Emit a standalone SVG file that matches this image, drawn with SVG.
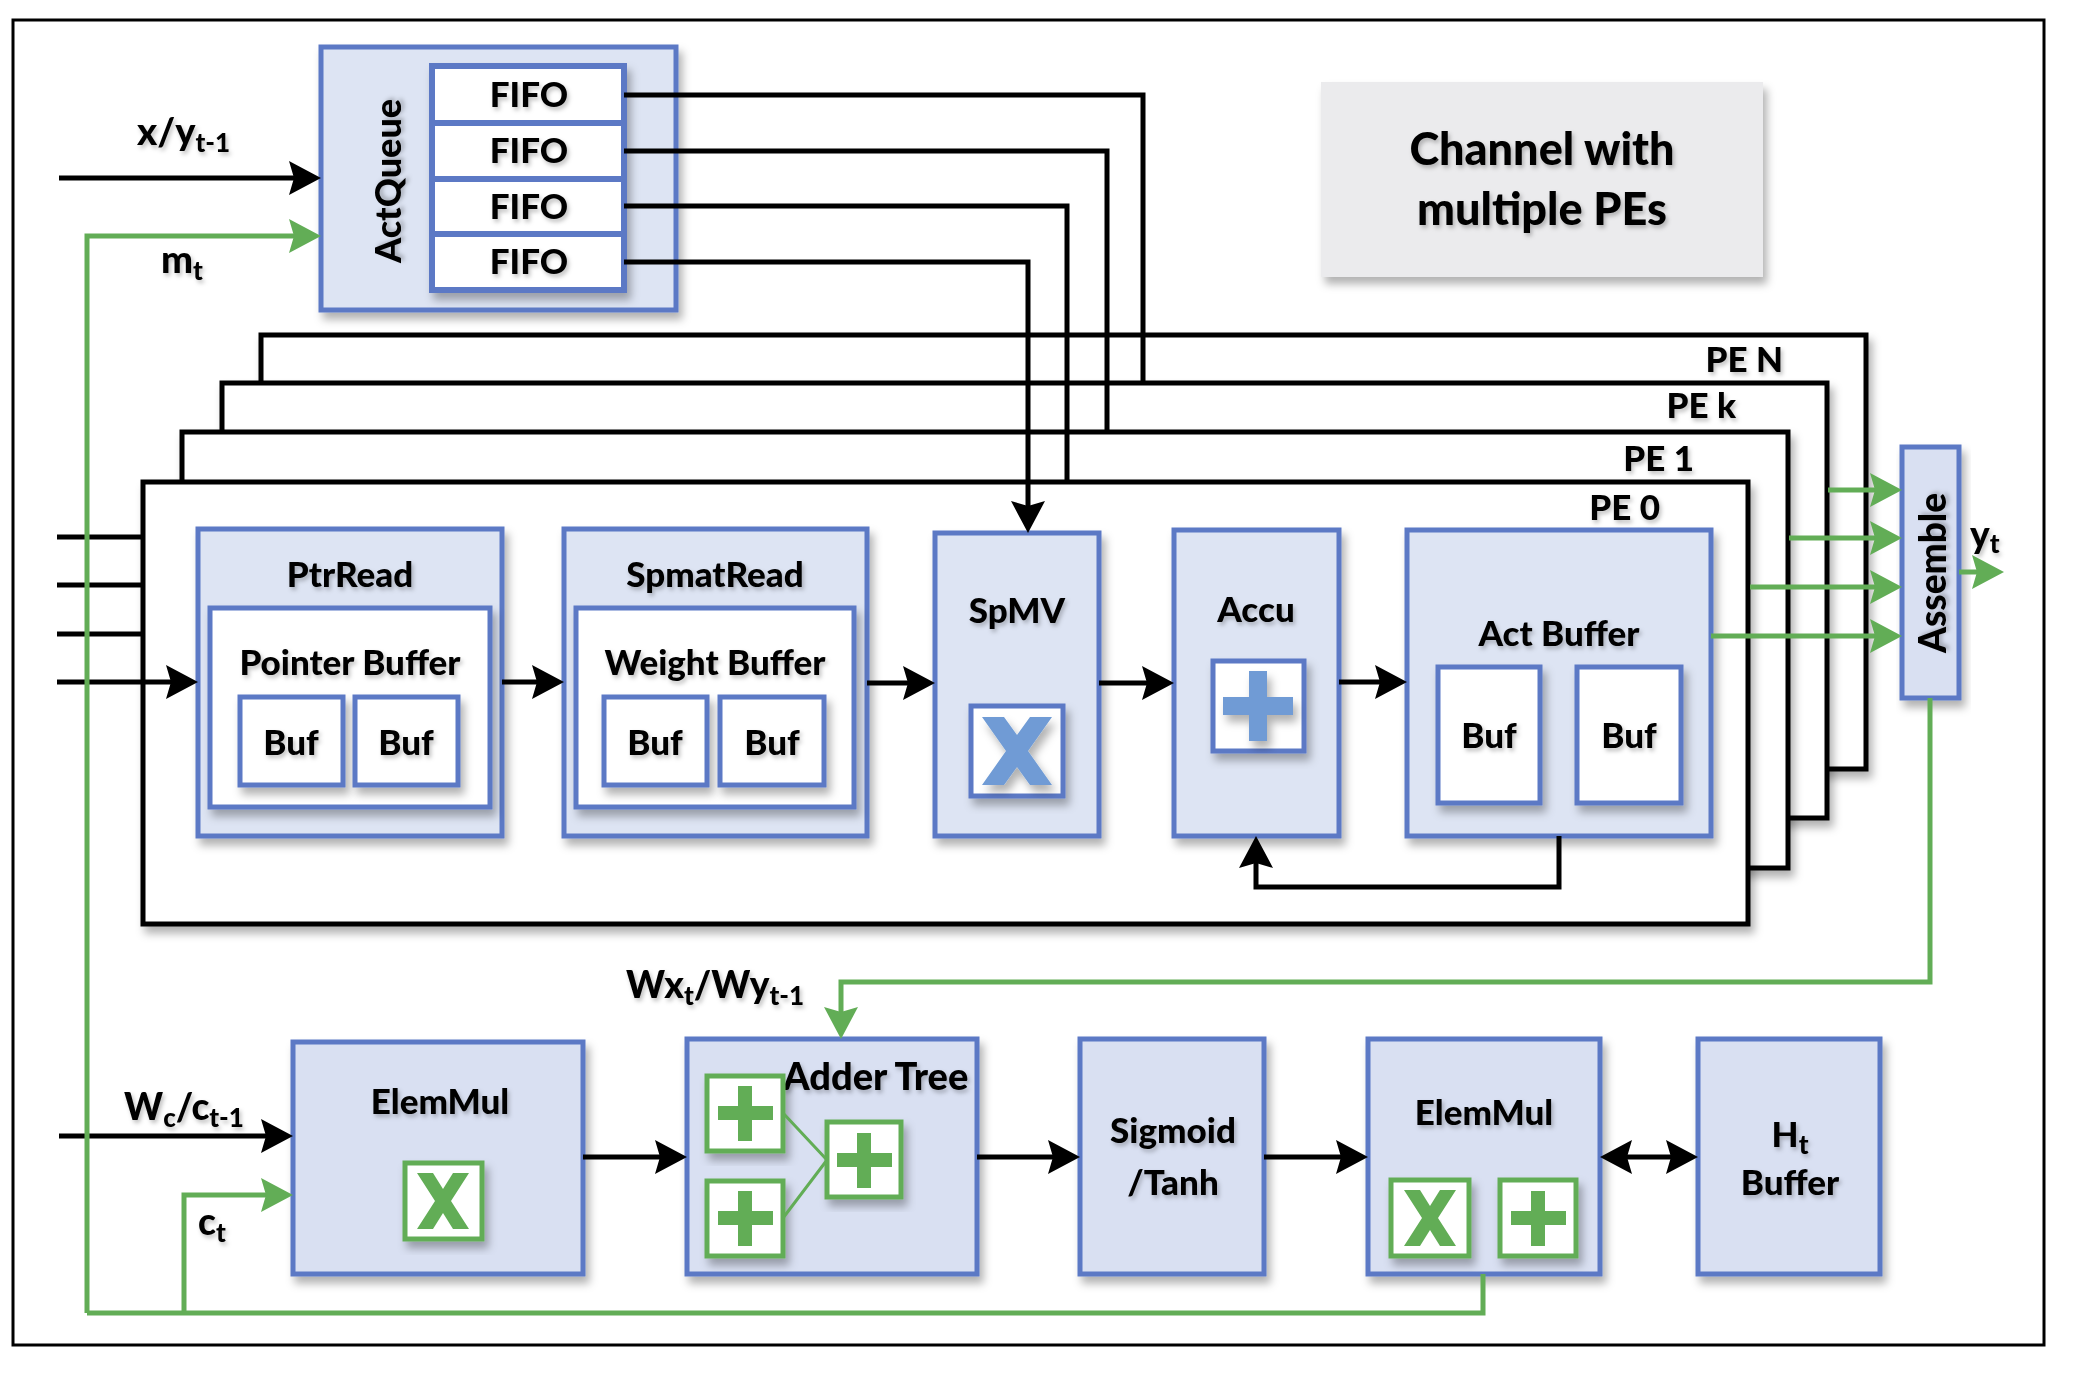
<svg xmlns="http://www.w3.org/2000/svg" width="2095" height="1390" viewBox="0 0 2095 1390">
<style>
text{font-family:Lato,"Liberation Sans",sans-serif;font-weight:900;fill:#000;filter:url(#ts)}
.lbl{font-size:35px;text-anchor:middle}
.big{font-size:45px;text-anchor:middle}
.blk{fill:#dde4f3;stroke:#5b79c5;stroke-width:5}
.bot{fill:#d9e0f2;stroke:#5b79c5;stroke-width:5}
.wbx{fill:#fff;stroke:#5b79c5;stroke-width:5}
.pe{fill:#fff;stroke:#000;stroke-width:5}
.gic{fill:#fff;stroke:#62ad56;stroke-width:5}
.gfill{fill:#62ad56}
.bfill{fill:#6f9bd5}
.wire{fill:none;stroke:#000;stroke-width:5}
.gwire{fill:none;stroke:#62ad56;stroke-width:5}
.sub{font-size:26px}
</style>
<defs>
<filter id="sh" x="-10%" y="-10%" width="130%" height="130%">
<feDropShadow dx="4" dy="7" stdDeviation="4" flood-color="#000" flood-opacity="0.3"/>
</filter>
<filter id="ts" x="-10%" y="-20%" width="130%" height="150%">
<feDropShadow dx="2" dy="3" stdDeviation="2" flood-color="#000" flood-opacity="0.25"/>
</filter>
<marker id="ab" markerUnits="userSpaceOnUse" markerWidth="34" markerHeight="34" refX="22" refY="17" orient="auto-start-reverse" viewBox="0 0 34 34">
<path d="M0,0 L32,17 L0,34 L5,17 z" fill="#000"/>
</marker>
<marker id="ag" markerUnits="userSpaceOnUse" markerWidth="34" markerHeight="34" refX="22" refY="17" orient="auto-start-reverse" viewBox="0 0 34 34">
<path d="M0,0 L32,17 L0,34 L5,17 z" fill="#62ad56"/>
</marker>
</defs>
<rect width="2095" height="1390" fill="#fff"/>
<rect id="frame" x="13" y="20" width="2031" height="1325" fill="none" stroke="#000" stroke-width="3"/>

<g id="channel">
<rect x="1321" y="82" width="442" height="195" fill="#ebebed" filter="url(#sh)"/>
<text class="big" x="1542" y="165">Channel with</text>
<text class="big" x="1542" y="225">multiple PEs</text>
</g>

<g id="actqueue">
<rect class="blk" x="321" y="47" width="355" height="263" filter="url(#sh)"/>
<text font-size="36" text-anchor="middle" transform="translate(401,181) rotate(-90)">ActQueue</text>
<g filter="url(#sh)">
<rect x="432" y="66" width="192" height="57" fill="#fff" stroke="#5b79c5" stroke-width="6"/>
<rect x="432" y="123" width="192" height="56" fill="#fff" stroke="#5b79c5" stroke-width="6"/>
<rect x="432" y="179" width="192" height="55" fill="#fff" stroke="#5b79c5" stroke-width="6"/>
<rect x="432" y="234" width="192" height="56" fill="#fff" stroke="#5b79c5" stroke-width="6"/>
</g>
<text class="lbl" x="529" y="107" font-size="36">FIFO</text>
<text class="lbl" x="529" y="163" font-size="36">FIFO</text>
<text class="lbl" x="529" y="219" font-size="36">FIFO</text>
<text class="lbl" x="529" y="274" font-size="36">FIFO</text>
</g>

<g id="pe-n">
<rect class="pe" x="261" y="335" width="1605" height="434" filter="url(#sh)"/>
<text font-size="35" text-anchor="end" x="1783" y="372">PE N</text>
</g>
<g id="pe-k">
<rect class="pe" x="222" y="383" width="1605" height="435" filter="url(#sh)"/>
<text font-size="35" text-anchor="end" x="1736" y="418">PE k</text>
</g>
<g id="pe-1">
<rect class="pe" x="182" y="432" width="1606" height="436" filter="url(#sh)"/>
<text font-size="35" text-anchor="end" x="1694" y="471">PE 1</text>
</g>
<g id="pe-0">
<rect class="pe" x="143" y="482" width="1605" height="442" filter="url(#sh)"/>
<text font-size="35" text-anchor="end" x="1660" y="520">PE 0</text>
</g>

<g id="ptrread">
<rect class="blk" x="198" y="529" width="304" height="307" filter="url(#sh)"/>
<text class="lbl" x="350" y="587" font-size="38">PtrRead</text>
<rect class="wbx" x="210" y="608" width="280" height="199" filter="url(#sh)"/>
<text class="lbl" x="350" y="675" font-size="32">Pointer Buffer</text>
<rect class="wbx" x="240" y="697" width="103" height="88" filter="url(#sh)"/>
<rect class="wbx" x="355" y="697" width="103" height="88" filter="url(#sh)"/>
<text class="lbl" x="291" y="755" font-size="37">Buf</text>
<text class="lbl" x="406" y="755" font-size="37">Buf</text>
</g>

<g id="spmatread">
<rect class="blk" x="564" y="529" width="303" height="307" filter="url(#sh)"/>
<text class="lbl" x="715" y="587" font-size="38">SpmatRead</text>
<rect class="wbx" x="576" y="608" width="278" height="199" filter="url(#sh)"/>
<text class="lbl" x="715" y="675" font-size="32">Weight Buffer</text>
<rect class="wbx" x="604" y="697" width="103" height="88" filter="url(#sh)"/>
<rect class="wbx" x="720" y="697" width="104" height="88" filter="url(#sh)"/>
<text class="lbl" x="655" y="755" font-size="37">Buf</text>
<text class="lbl" x="772" y="755" font-size="37">Buf</text>
</g>

<g id="spmv">
<rect class="blk" x="935" y="533" width="164" height="303" filter="url(#sh)"/>
<text class="lbl" x="1017" y="623" font-size="36">SpMV</text>
<rect class="wbx" x="971" y="706" width="92" height="90" filter="url(#sh)"/>
<polygon class="bfill" filter="url(#sh)" points="982,717 1004,717 1017,735 1030,717 1052,717 1028,751 1052,785 1030,785 1017,767 1004,785 982,785 1006,751"/>
</g>

<g id="accu">
<rect class="blk" x="1174" y="530" width="165" height="306" filter="url(#sh)"/>
<text class="lbl" x="1256" y="622" font-size="36">Accu</text>
<rect class="wbx" x="1213" y="661" width="91" height="90" filter="url(#sh)"/>
<g class="bfill" filter="url(#sh)">
<rect x="1249" y="671" width="18" height="70"/>
<rect x="1223" y="697" width="70" height="18"/>
</g>
</g>

<g id="actbuffer">
<rect class="blk" x="1407" y="530" width="304" height="306" filter="url(#sh)"/>
<text class="lbl" x="1559" y="646" font-size="37">Act Buffer</text>
<rect class="wbx" x="1438" y="667" width="102" height="136" filter="url(#sh)"/>
<rect class="wbx" x="1577" y="667" width="104" height="136" filter="url(#sh)"/>
<text class="lbl" x="1489" y="748" font-size="37">Buf</text>
<text class="lbl" x="1629" y="748" font-size="37">Buf</text>
</g>

<g id="assemble">
<rect class="bot" x="1902" y="447" width="57" height="251" filter="url(#sh)"/>
<text font-size="37" text-anchor="middle" transform="translate(1946,573) rotate(-90)">Assemble</text>
</g>

<g id="elemmul1">
<rect class="bot" x="293" y="1042" width="290" height="232" filter="url(#sh)"/>
<text class="lbl" x="440" y="1114" font-size="40">ElemMul</text>
<rect class="gic" x="405" y="1163" width="77" height="76" filter="url(#sh)"/>
<polygon class="gfill" points="417,1173 433,1173 443,1189 453,1173 469,1173 451,1201 469,1229 453,1229 443,1213 433,1229 417,1229 435,1201"/>
</g>

<g id="addertree">
<rect class="bot" x="687" y="1039" width="290" height="235" filter="url(#sh)"/>
<text font-size="38" x="783" y="1090">Adder Tree</text>
<rect class="gic" x="707" y="1076" width="76" height="75" filter="url(#sh)"/>
<rect class="gic" x="707" y="1181" width="76" height="75" filter="url(#sh)"/>
<rect class="gic" x="827" y="1122" width="74" height="75" filter="url(#sh)"/>
<g class="gfill">
<rect x="738" y="1086" width="14" height="55"/><rect x="718" y="1106" width="55" height="14"/>
<rect x="738" y="1191" width="14" height="55"/><rect x="718" y="1211" width="55" height="14"/>
<rect x="857" y="1133" width="14" height="55"/><rect x="837" y="1153" width="55" height="14"/>
</g>
<path d="M783,1113 L827,1160 M783,1218 L827,1160" fill="none" stroke="#62ad56" stroke-width="3"/>
</g>

<g id="sigmoid">
<rect class="bot" x="1080" y="1039" width="184" height="235" filter="url(#sh)"/>
<text class="lbl" x="1173" y="1143" font-size="37">Sigmoid</text>
<text class="lbl" x="1173" y="1195" font-size="37">/Tanh</text>
</g>

<g id="elemmul2">
<rect class="bot" x="1368" y="1039" width="232" height="235" filter="url(#sh)"/>
<text class="lbl" x="1484" y="1125" font-size="39">ElemMul</text>
<rect class="gic" x="1391" y="1180" width="78" height="76" filter="url(#sh)"/>
<rect class="gic" x="1500" y="1180" width="76" height="76" filter="url(#sh)"/>
<polygon class="gfill" points="1404,1190 1420,1190 1430,1206 1440,1190 1456,1190 1438,1218 1456,1246 1440,1246 1430,1230 1420,1246 1404,1246 1422,1218"/>
<g class="gfill">
<rect x="1531" y="1191" width="14" height="55"/><rect x="1511" y="1211" width="55" height="14"/>
</g>
</g>

<g id="htbuffer">
<rect class="bot" x="1698" y="1039" width="182" height="235" filter="url(#sh)"/>
<text class="lbl" x="1790" y="1147" font-size="35">H<tspan class="sub" dy="7">t</tspan></text>
<text class="lbl" x="1790" y="1195" font-size="37">Buffer</text>
</g>

<g id="labels">
<text font-size="38" x="137" y="145">x/y<tspan class="sub" dy="7">t-1</tspan></text>
<text font-size="38" x="161" y="273">m<tspan class="sub" dy="7">t</tspan></text>
<text font-size="37" x="124" y="1120">W<tspan class="sub" dy="7">c</tspan><tspan dy="-7">/c</tspan><tspan class="sub" dy="7">t-1</tspan></text>
<text font-size="37" x="198" y="1235">c<tspan class="sub" dy="7">t</tspan></text>
<text font-size="37" x="626" y="998">Wx<tspan class="sub" dy="7">t</tspan><tspan dy="-7">/Wy</tspan><tspan class="sub" dy="7">t-1</tspan></text>
<text font-size="37" x="1970" y="548">y<tspan class="sub" dy="5">t</tspan></text>
</g>

<g id="connectors">
<path class="wire" d="M59,178 H311" marker-end="url(#ab)"/>
<path class="wire" d="M624,95 H1143 V383"/>
<path class="wire" d="M624,151 H1107 V432"/>
<path class="wire" d="M624,206 H1067 V482"/>
<path class="wire" d="M624,262 H1028 V523" marker-end="url(#ab)"/>
<path class="wire" d="M57,537 H143 M57,585 H143 M57,634 H143"/>
<path class="wire" d="M57,682 H188" marker-end="url(#ab)"/>
<path class="wire" d="M502,682 H554" marker-end="url(#ab)"/>
<path class="wire" d="M867,683 H925" marker-end="url(#ab)"/>
<path class="wire" d="M1099,683 H1164" marker-end="url(#ab)"/>
<path class="wire" d="M1339,682 H1397" marker-end="url(#ab)"/>
<path class="wire" d="M1559,836 V887 H1256 V846" marker-end="url(#ab)"/>
<path class="wire" d="M59,1136 H283" marker-end="url(#ab)"/>
<path class="wire" d="M583,1157 H677" marker-end="url(#ab)"/>
<path class="wire" d="M977,1157 H1070" marker-end="url(#ab)"/>
<path class="wire" d="M1264,1157 H1358" marker-end="url(#ab)"/>
<path class="wire" d="M1610,1157 H1688" marker-start="url(#ab)" marker-end="url(#ab)"/>
<path class="gwire" d="M87,1313 V236 H311" marker-end="url(#ag)"/>
<path class="gwire" d="M1483,1274 V1313 H87"/>
<path class="gwire" d="M184,1313 V1195 H283" marker-end="url(#ag)"/>
<path class="gwire" d="M1930,698 V982 H841 V1029" marker-end="url(#ag)"/>
<path class="gwire" d="M1828,490 H1892" marker-end="url(#ag)"/>
<path class="gwire" d="M1789,538 H1892" marker-end="url(#ag)"/>
<path class="gwire" d="M1750,587 H1892" marker-end="url(#ag)"/>
<path class="gwire" d="M1711,636 H1892" marker-end="url(#ag)"/>
<path class="gwire" d="M1959,572 H1994" marker-end="url(#ag)"/>
</g>
</svg>
